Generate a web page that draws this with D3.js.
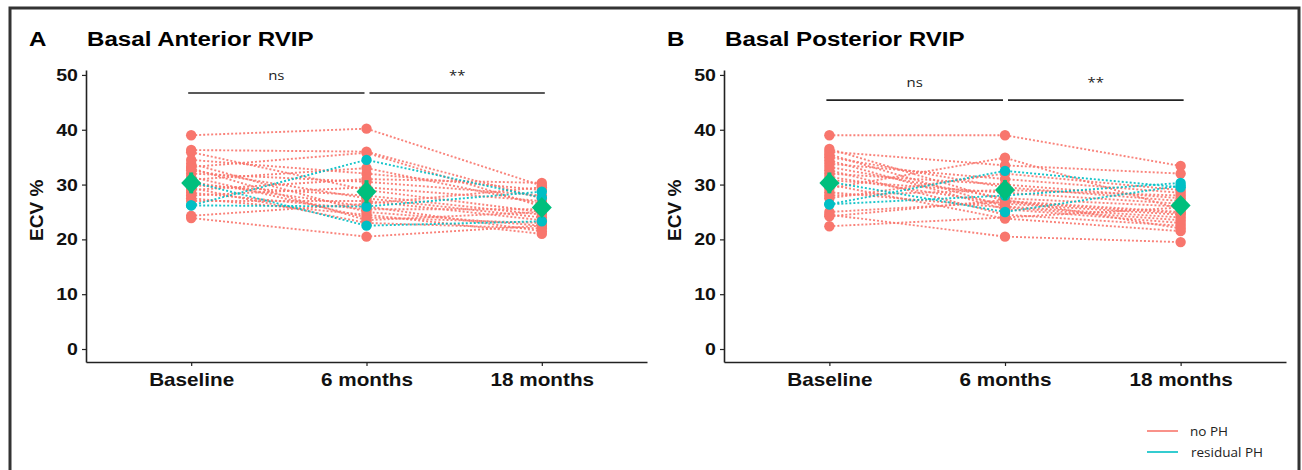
<!DOCTYPE html>
<html>
<head>
<meta charset="utf-8">
<script src="https://cdn.jsdelivr.net/npm/d3@7"></script>
<style>
  body { margin: 0; background: #fff; }
  svg { display: block; }
</style>
</head>
<body>
<div class="chart"></div>
<script>
// DATA ------------------------------------

const categories = ["Baseline", "6 months", "18 months"];
const yTicks = [0, 10, 20, 30, 40, 50];
const groups = ["no PH", "residual PH"];

// panel A, basal anterior RVIP (one entry per patient)
const antBaseline = [39.0, 36.3, 35.9, 34.5, 33.8, 33.2, 32.6, 32.0, 31.4, 30.9, 30.4, 29.9, 29.4, 29.0, 28.5, 28.0, 27.5, 27.0, 24.3, 23.9, 33.0, 30.5, 26.2, 26.2];
const ant6m       = [40.2, 36.0, 29.0, 32.0, 25.0, 35.8, 27.5, 30.5, 24.0, 33.0, 26.0, 28.0, 23.0, 31.0, 25.5, 29.5, 24.5, 27.0, 26.5, 20.5, 23.5, 22.5, 34.5, 26.0];
const ant18m      = [29.8, 27.5, 25.0, 29.0, 22.5, 26.0, 24.0, 28.0, 23.0, 26.5, 21.5, 24.5, 22.0, 30.3, 25.5, 27.0, 21.0, 23.5, 29.5, 22.5, 25.0, 23.3, 27.6, 28.7];
const antGroup    = [0, 0, 0, 0, 0, 0, 0, 0, 0, 0, 0, 0, 0, 0, 0, 0, 0, 0, 0, 0, 0, 1, 1, 1];
const antMean = [30.3, 28.7, 25.8];
const antSE   = [1.9, 2.1, 1.2];

// panel B, basal posterior RVIP
const postBaseline = [39.0, 36.5, 36.0, 35.5, 35.0, 34.4, 33.8, 33.2, 32.6, 32.0, 31.4, 30.8, 30.0, 29.3, 28.6, 28.0, 27.5, 25.0, 24.5, 24.2, 22.4, 30.5, 26.4, 26.4];
const post6m       = [39.0, 27.0, 33.5, 26.0, 29.5, 25.5, 31.0, 27.5, 24.5, 30.0, 26.5, 28.5, 23.8, 34.9, 25.8, 29.0, 32.0, 26.8, 20.5, 27.2, 24.0, 25.0, 32.5, 28.0];
const post18m      = [33.4, 25.0, 32.0, 24.0, 27.0, 23.0, 28.5, 26.0, 22.5, 27.5, 24.5, 26.5, 21.5, 25.5, 23.5, 28.0, 29.0, 24.8, 19.5, 22.0, 25.8, 29.8, 29.5, 30.3];
const postGroup    = [0, 0, 0, 0, 0, 0, 0, 0, 0, 0, 0, 0, 0, 0, 0, 0, 0, 0, 0, 0, 0, 1, 1, 1];
const postMean = [30.3, 29.0, 26.2];
const postSE   = [1.9, 1.8, 1.3];

// significance labels between time points
const sigLabels = ["ns", "**"];

// CHART INIT ------------------------------

const W = 1302, H = 470;
const colors = ["#F8766D", "#00BFC4"];
const meanColor = "#00BF7D";
const SX = 1.15; // the figure is stretched horizontally
const boldFont = "Liberation Sans, Arial, sans-serif";

const svg = d3.select(".chart").append("svg")
    .attr("width", W)
    .attr("height", H);

svg.append("rect")
    .attr("x", 10).attr("y", 8)
    .attr("width", 1289).attr("height", 500)
    .attr("fill", "none")
    .attr("stroke", "#333")
    .attr("stroke-width", 3);

const yScale = d3.scaleLinear()
    .domain([-2.37, 50.9])
    .range([362, 70]);

function stretch(sel) {
    sel.each(function() {
        const t = d3.select(this);
        const x = +t.attr("x") || 0, y = +t.attr("y") || 0;
        t.attr("x", 0).attr("y", 0)
         .attr("transform", "translate(" + x + "," + y + ") scale(" + SX + ",1)");
    });
}

const panels = [
    {letter: "A", title: "Basal Anterior RVIP", x0: 86, x1: 647, sigY: 46.7,
     base: antBaseline, m6: ant6m, m18: ant18m, grp: antGroup, mean: antMean, se: antSE},
    {letter: "B", title: "Basal Posterior RVIP", x0: 724, x1: 1286, sigY: 45.4,
     base: postBaseline, m6: post6m, m18: post18m, grp: postGroup, mean: postMean, se: postSE}
];

panels.forEach(function(p) {
    const g = svg.append("g");

    const xScale = d3.scalePoint()
        .domain(categories)
        .range([p.x0, p.x1])
        .padding(0.6);

    // titles
    g.append("text")
        .attr("x", p.x0 - 57).attr("y", 46)
        .attr("font-family", boldFont)
        .attr("font-weight", "bold").attr("font-size", 21)
        .text(p.letter).call(stretch);
    g.append("text")
        .attr("x", p.x0 + 1).attr("y", 46)
        .attr("font-family", boldFont)
        .attr("font-weight", "bold").attr("font-size", 21)
        .text(p.title).call(stretch);

    // axes
    const yAxis = g.append("g")
        .attr("transform", "translate(" + p.x0 + ",0)")
        .call(d3.axisLeft(yScale).tickValues(yTicks).tickSize(4).tickSizeOuter(0).tickPadding(3));
    const xAxis = g.append("g")
        .attr("transform", "translate(0,362)")
        .call(d3.axisBottom(xScale).tickSize(4).tickSizeOuter(0).tickPadding(7));

    [yAxis, xAxis].forEach(function(ax) {
        ax.select(".domain").attr("stroke", "#222").attr("stroke-width", 1.6);
        ax.selectAll(".tick line").attr("stroke", "#222").attr("stroke-width", 1.2);
        ax.selectAll(".tick text")
            .attr("fill", "#111")
            .attr("font-family", boldFont)
            .attr("font-weight", "bold");
    });
    yAxis.selectAll(".tick text").attr("font-size", 17)
        .attr("transform", "scale(" + SX + ",1)");
    xAxis.selectAll(".tick text").attr("font-size", 18)
        .attr("transform", "scale(" + SX + ",1)");

    g.append("text")
        .attr("transform", "translate(" + (p.x0 - 43) + "," + yScale(25.3) + ") rotate(-90)")
        .attr("text-anchor", "middle")
        .attr("font-family", boldFont)
        .attr("font-weight", "bold").attr("font-size", 19)
        .attr("fill", "#111")
        .text("ECV %");

    // patient rows
    const patients = p.base.map(function(v, i) {
        return {grp: p.grp[i], vals: [v, p.m6[i], p.m18[i]]};
    });
    const ordered = patients.filter(d => d.grp === 0).concat(patients.filter(d => d.grp === 1));

    const line = d3.line()
        .x((d, i) => xScale(categories[i]))
        .y(d => yScale(d));

    g.selectAll(".pline")
        .data(ordered)
        .enter().append("path")
        .attr("class", "pline")
        .attr("d", d => line(d.vals))
        .attr("fill", "none")
        .attr("stroke", d => colors[d.grp])
        .attr("stroke-width", 1.9)
        .attr("stroke-dasharray", "2,2")
        .attr("opacity", 0.9);

    ordered.forEach(function(d) {
        g.selectAll(null)
            .data(d.vals)
            .enter().append("circle")
            .attr("cx", (v, i) => xScale(categories[i]))
            .attr("cy", v => yScale(v))
            .attr("r", 5.2)
            .attr("fill", colors[d.grp]);
    });

    // means with error bars
    g.selectAll(".err")
        .data(p.mean)
        .enter().append("line")
        .attr("x1", (v, i) => xScale(categories[i]))
        .attr("x2", (v, i) => xScale(categories[i]))
        .attr("y1", (v, i) => yScale(v - p.se[i]))
        .attr("y2", (v, i) => yScale(v + p.se[i]))
        .attr("stroke", meanColor)
        .attr("stroke-width", 4);
    g.selectAll(".mean")
        .data(p.mean)
        .enter().append("path")
        .attr("d", "M0,-10.5L10,0L0,10.5L-10,0Z")
        .attr("transform", (v, i) => "translate(" + xScale(categories[i]) + "," + yScale(v) + ")")
        .attr("fill", meanColor);

    // significance bars
    const pairs = [[0, 1, -3, -2], [1, 2, 3, 3]];
    pairs.forEach(function(pr, k) {
        const xa = xScale(categories[pr[0]]) + pr[2];
        const xb = xScale(categories[pr[1]]) + pr[3];
        const yy = yScale(p.sigY);
        g.append("line")
            .attr("x1", xa).attr("x2", xb)
            .attr("y1", yy).attr("y2", yy)
            .attr("stroke", "#222").attr("stroke-width", 1.6);
        g.append("text")
            .attr("x", (xa + xb) / 2).attr("y", yy - 13)
            .attr("text-anchor", "middle")
            .attr("font-family", "Open Sans, sans-serif")
            .attr("font-size", 13)
            .attr("fill", "#222")
            .text(sigLabels[k]).call(stretch);
    });
});

// legend
const legend = svg.append("g");
groups.forEach(function(name, i) {
    const y = 431 + i * 21;
    legend.append("line")
        .attr("x1", 1147).attr("x2", 1178)
        .attr("y1", y).attr("y2", y)
        .attr("stroke", colors[i]).attr("stroke-width", 1.6);
    legend.append("text")
        .attr("x", 1190 + i).attr("y", y + 4.5)
        .attr("font-family", "Open Sans, sans-serif")
        .attr("font-size", 13.5)
        .attr("fill", "#222")
        .text(name);
});
</script>
</body>
</html>
